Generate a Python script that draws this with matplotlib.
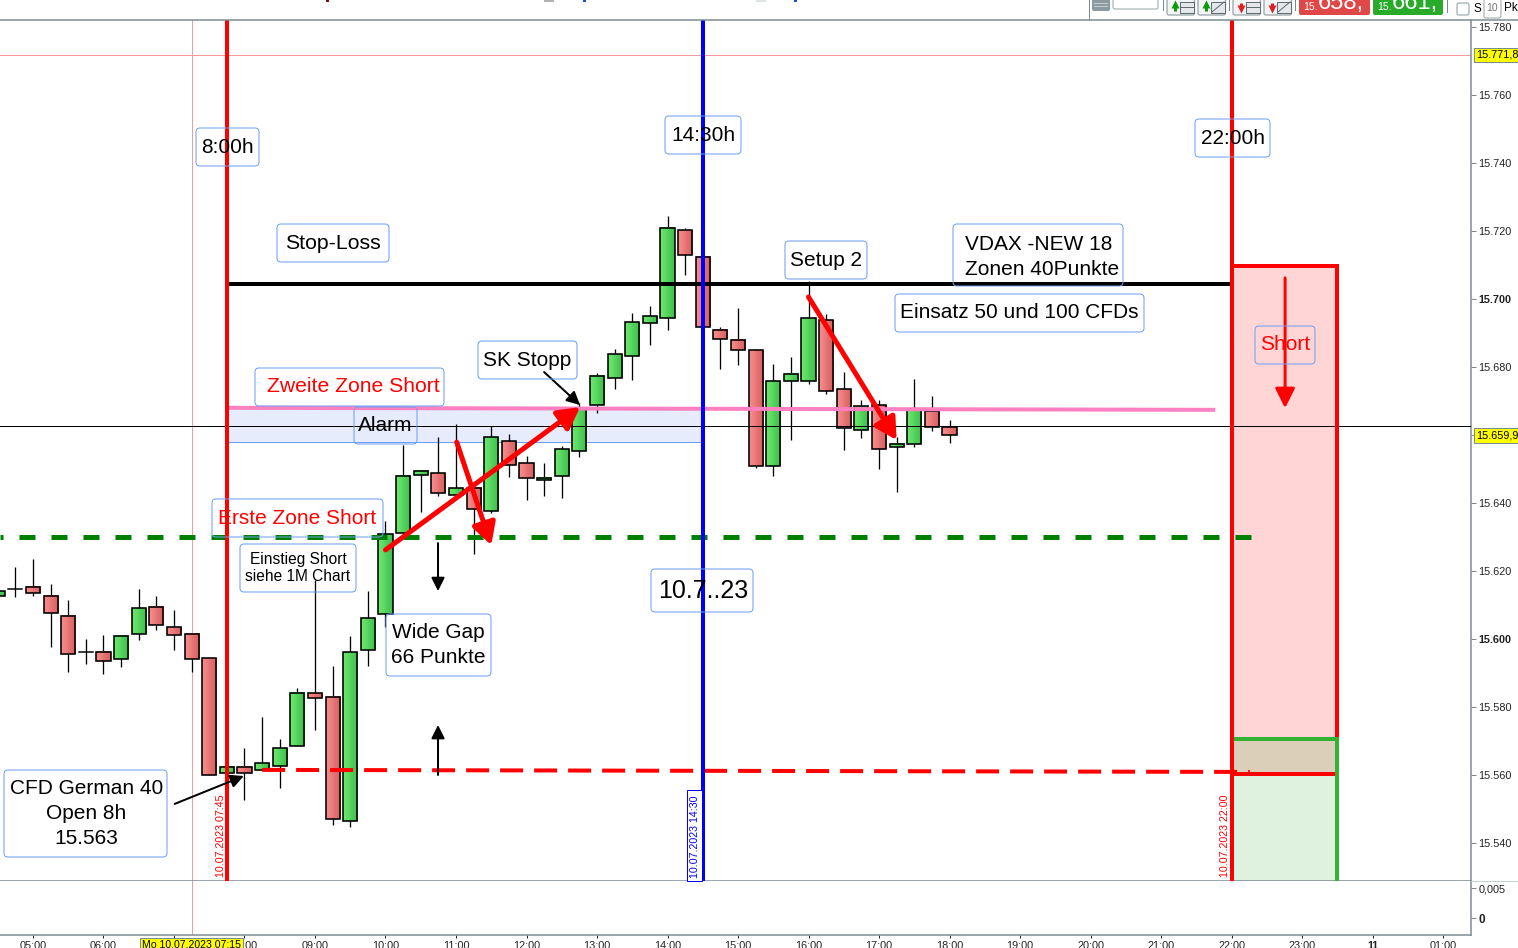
import numpy as np
import matplotlib
matplotlib.use('Agg')
import matplotlib.pyplot as plt
from matplotlib.colors import LinearSegmentedColormap
from matplotlib.patches import FancyBboxPatch, Rectangle

plt.rcParams['font.family'] = ['Liberation Sans', 'DejaVu Sans']

# 15 minute candles
times = ['04:30', '04:45', '05:00', '05:15', '05:30', '05:45', '06:00', '06:15', '06:30', '06:45', '07:00',
         '07:15', '07:30', '07:45', '08:00', '08:15', '08:30', '08:45', '09:00', '09:15', '09:30', '09:45',
         '10:00', '10:15', '10:30', '10:45', '11:00', '11:15', '11:30', '11:45', '12:00', '12:15', '12:30',
         '12:45', '13:00', '13:15', '13:30', '13:45', '14:00', '14:15', '14:30', '14:45', '15:00', '15:15',
         '15:30', '15:45', '16:00', '16:15', '16:30', '16:45', '17:00', '17:15', '17:30', '17:45', '18:00']
opens = [15612.7, 15614.8, 15615.4, 15612.7, 15606.9, 15596.1, 15596.3, 15594.0, 15601.4, 15609.3, 15603.4,
         15601.4, 15594.3, 15560.5, 15562.4, 15561.4, 15562.7, 15568.4, 15584.0, 15582.9, 15546.4, 15596.7,
         15607.3, 15631.1, 15648.1, 15648.7, 15642.3, 15644.3, 15637.6, 15658.1, 15651.7, 15646.7, 15647.9,
         15655.2, 15668.7, 15676.7, 15683.1, 15692.9, 15694.3, 15720.2, 15712.3, 15690.8, 15687.9, 15684.9,
         15650.8, 15675.8, 15675.8, 15693.7, 15673.4, 15661.4, 15668.7, 15656.4, 15657.3, 15667.0, 15662.3]
highs = [15614.4, 15621.2, 15623.5, 15616.2, 15611.5, 15599.9, 15601.2, 15601.0, 15614.7, 15612.6, 15608.5,
         15601.5, 15594.3, 15562.3, 15567.9, 15577.1, 15570.6, 15585.5, 15617.4, 15592.1, 15600.9, 15614.1,
         15634.6, 15657.1, 15649.6, 15659.3, 15663.1, 15644.3, 15662.6, 15660.3, 15653.8, 15651.8, 15656.8,
         15669.3, 15678.1, 15685.2, 15695.9, 15697.9, 15724.4, 15720.8, 15712.3, 15691.7, 15697.4, 15685.2,
         15680.8, 15682.9, 15705.3, 15695.5, 15678.4, 15670.3, 15670.3, 15659.3, 15676.5, 15671.4, 15664.4]
lows = [15612.3, 15612.4, 15612.6, 15597.7, 15590.4, 15592.7, 15589.8, 15591.9, 15599.8, 15602.6, 15596.9,
        15590.4, 15559.9, 15560.5, 15552.7, 15561.4, 15556.3, 15568.4, 15573.3, 15545.4, 15544.8, 15592.1,
        15603.6, 15631.1, 15637.4, 15642.1, 15642.3, 15625.1, 15637.1, 15647.7, 15640.9, 15642.1, 15641.6,
        15653.6, 15666.4, 15673.6, 15676.3, 15686.6, 15690.8, 15707.1, 15691.7, 15679.5, 15680.7, 15650.2,
        15647.9, 15658.6, 15675.1, 15672.1, 15655.7, 15659.2, 15650.1, 15643.3, 15656.4, 15661.3, 15657.7]
closes = [15614.0, 15614.8, 15613.4, 15607.6, 15595.5, 15596.1, 15593.4, 15601.0, 15609.0, 15604.0, 15601.1,
          15594.0, 15559.9, 15562.3, 15560.5, 15563.4, 15567.9, 15584.0, 15582.6, 15547.0, 15596.1, 15606.1,
          15630.8, 15647.9, 15649.3, 15642.9, 15644.3, 15638.1, 15659.3, 15651.1, 15647.3, 15647.3, 15655.8,
          15667.9, 15677.3, 15683.7, 15693.1, 15694.9, 15720.8, 15712.9, 15691.7, 15688.1, 15684.9, 15650.8,
          15675.8, 15677.9, 15694.3, 15672.9, 15662.0, 15668.4, 15655.8, 15657.3, 15667.6, 15662.3, 15659.9]

# levels
price_ticks = [15540, 15560, 15580, 15600, 15620, 15640, 15660, 15680, 15700, 15720, 15740, 15760, 15780]
bold_prices = [15600, 15700]
hidden_prices = [15660]
stop_loss = 15704.4
zone_top = 15668.2
zone_bottom = 15657.9
first_zone = 15629.9
crosshair_price = 15662.5
crosshair_time = '07:15'
high_tag = 15771.8
last_tag = 15659.9
pink_line = [15668.0, 15667.4]
red_line = [15561.5, 15560.9]
short_top = 15709.7
short_bottom = 15560.3
profit_top = 15570.6

hour_ticks = [5, 6, 7, 8, 9, 10, 11, 12, 13, 14, 15, 16, 17, 18, 19, 20, 21, 22, 23, 24, 25]
hour_labels = ['05:00', '06:00', '', '08:00', '09:00', '10:00', '11:00', '12:00', '13:00', '14:00', '15:00',
               '16:00', '17:00', '18:00', '19:00', '20:00', '21:00', '22:00', '23:00', '11', '01:00']

FIG_W, FIG_H = 1518, 948
LEFT, RIGHT = 4.532, 25.397
GRID = '#7a8a90'
BOX = '#6b9ff5'


def hours(t):
    h, m = t.split(':')
    return int(h) + int(m) / 60


def px(n):
    return n * 0.72


fig = plt.figure(figsize=(FIG_W / 100, FIG_H / 100), dpi=100)
ax = fig.add_axes([0, 1 - 881 / FIG_H, 1471 / FIG_W, 861 / FIG_H])
low = fig.add_axes([0, 1 - 935 / FIG_H, 1471 / FIG_W, 54 / FIG_H])
top = fig.add_axes([0, 0, 1, 1], zorder=5)
top.set_xlim(0, FIG_W)
top.set_ylim(FIG_H, 0)
top.axis('off')
top.patch.set_alpha(0)

ax.set_xlim(LEFT, RIGHT)
ax.set_ylim(15528.82, 15782.06)
ax.autoscale(False)

# risk / reward boxes
t22, t2330 = hours('22:00'), hours('23:30')
ax.add_patch(Rectangle((t22, short_bottom), t2330 - t22, short_top - short_bottom, fc='#ffd5d5', ec='none', zorder=2))
ax.add_patch(Rectangle((t22, 15528.82), t2330 - t22, profit_top - 15528.82, fc='#dff2df', ec='none', zorder=2))
ax.add_patch(Rectangle((t22, short_bottom), t2330 - t22, profit_top - short_bottom, fc='#dccfb9', ec='none', zorder=2))
ax.plot([t22, t22, t2330, t2330], [short_bottom, short_top, short_top, profit_top], color='#ff0000', lw=px(4),
        zorder=5, solid_joinstyle='miter')
ax.plot([t22, t2330], [short_bottom, short_bottom], color='#ff0000', lw=px(4), zorder=5, solid_capstyle='butt')
ax.plot([t22, t2330, t2330], [profit_top, profit_top, 15528.82], color='#33b233', lw=px(4), zorder=5,
        solid_joinstyle='miter')

# zone
t745, t1430 = hours('07:45'), hours('14:30')
ax.add_patch(Rectangle((t745, zone_bottom), t1430 - t745, zone_top - zone_bottom, fc='#e6ecfc', ec=BOX,
                       lw=px(1), zorder=2))

# candles
green_map = LinearSegmentedColormap.from_list('g', ['#6ce86c', '#3fbf4f'])
red_map = LinearSegmentedColormap.from_list('r', ['#f88c8c', '#d66060'])
grad = np.linspace(0, 1, 16).reshape(1, -1)
width = 0.2
for i in range(len(times)):
    x = hours(times[i])
    ax.plot([x, x], [lows[i], highs[i]], color='black', lw=px(1.3), zorder=3, solid_capstyle='butt')
    o, c = opens[i], closes[i]
    if o == c:
        ax.plot([x - width / 2, x + width / 2], [o, o], color='black', lw=px(1.5), zorder=3)
        continue
    cmap = green_map if c > o else red_map
    ax.imshow(grad, extent=(x - width / 2, x + width / 2, min(o, c), max(o, c)), aspect='auto', cmap=cmap,
              interpolation='nearest', zorder=3)
    ax.add_patch(Rectangle((x - width / 2, min(o, c)), width, abs(c - o), fc='none', ec='black', lw=px(1.6), zorder=3.1))

# crosshair and horizontal lines
ax.axhline(high_tag, color='#f79a9a', lw=px(1), zorder=1)
ax.axhline(crosshair_price, color='black', lw=px(1), zorder=4)
ax.plot([t745, t22], [stop_loss, stop_loss], color='black', lw=px(4), zorder=5, solid_capstyle='butt')
ax.plot([t745, 21.77], pink_line, color='#ff80c0', lw=px(4), zorder=5, solid_capstyle='butt')
ax.plot([LEFT, 22.28], [first_zone, first_zone], color='#008000', lw=px(5), zorder=5, ls=(2.6, (3.2, 3.2)))
ax.plot([hours('08:15'), 22.26], red_line, color='#ff0000', lw=px(4), zorder=5, ls=(0, (5.75, 2.75)))

# vertical lines
ax.axvline(hours(crosshair_time), color='#f79a9a', lw=px(1), zorder=1)
ax.axvline(t745, color='#ff0000', lw=px(4), zorder=6)
ax.axvline(t1430, color='#0000ff', lw=px(4), zorder=6)
ax.axvline(t22, color='#ff0000', lw=px(4), zorder=6)
low.axvline(hours(crosshair_time), color='#f79a9a', lw=px(1), zorder=1)

# arrows
red_arrows = [((10.0, 15626.2), (12.76, 15668.2)), ((11.01, 15657.9), (11.5, 15627.6)),
              ((16.0, 15700.6), (17.25, 15658.5))]
black_arrows = [((7.01, 15551.5), (7.99, 15559.7)), ((12.25, 15678.5), (12.76, 15668.8)),
                ((10.745, 15628.2), (10.745, 15614.1)), ((10.745, 15560.0), (10.745, 15574.7))]
for a, b in red_arrows:
    ax.annotate('', xy=b, xytext=a, zorder=7, arrowprops=dict(arrowstyle='-|>,head_length=1,head_width=0.55',
                mutation_scale=13, color='#ff0000', lw=px(5), shrinkA=0, shrinkB=0))
for a, b in black_arrows:
    ax.annotate('', xy=b, xytext=a, zorder=7, arrowprops=dict(arrowstyle='-|>,head_length=1,head_width=0.5',
                mutation_scale=8, color='black', lw=px(2), shrinkA=0, shrinkB=0))
ax.annotate('', xy=(22.76, 15667.9), xytext=(22.76, 15706.2), zorder=7,
            arrowprops=dict(arrowstyle='-|>,head_length=1,head_width=0.5', mutation_scale=12, color='#ff0000',
                            lw=px(3), shrinkA=0, shrinkB=0))

# axes
for s in ['top', 'left']:
    ax.spines[s].set_visible(False)
    low.spines[s].set_visible(False)
for a in [ax, low]:
    a.spines['right'].set_color(GRID)
    a.spines['bottom'].set_color(GRID)
    a.spines['right'].set_linewidth(px(1.5))
    a.spines['bottom'].set_linewidth(px(1.5))
    a.set_xlim(LEFT, RIGHT)
    a.yaxis.tick_right()
ax.set_xticks([])
ax.set_yticks(price_ticks)
price_labels = ['' if p in hidden_prices else '{:,}'.format(p).replace(',', '.') for p in price_ticks]
ax.set_yticklabels(price_labels, fontsize=7.8, color='#222222')
for lab, p in zip(ax.get_yticklabels(), price_ticks):
    if p in bold_prices:
        lab.set_fontweight('bold')
ax.tick_params(axis='y', length=3.5, width=px(1), color=GRID, pad=2)

low.set_ylim(-0.002833, 0.006167)
low.set_yticks([0, 0.005])
low.set_yticklabels(['0', '0,005'], fontsize=7.8, color='#222222')
low.get_yticklabels()[0].set_fontweight('bold')
low.get_yticklabels()[0].set_fontsize(8.5)
low.tick_params(axis='y', length=3.5, width=px(1), color=GRID, pad=2)
low.set_xticks(hour_ticks)
low.set_xticklabels(hour_labels, fontsize=7.8, color='#222222')
low.get_xticklabels()[hour_labels.index('11')].set_fontweight('bold')
low.tick_params(axis='x', length=2.5, width=px(1), color='#222222', pad=1.5)

# yellow price tags
for p, txt in [(high_tag, '15.771,8'), (last_tag, '15.659,9')]:
    ax.text(1.0036, p, txt, transform=ax.get_yaxis_transform(), fontsize=7.8, va='center', ha='left', zorder=8,
            clip_on=False, bbox=dict(boxstyle='square,pad=0.2', fc='#ffff00', ec=GRID, lw=px(1)))

# date labels on the vertical lines
ax.text(t745 - 0.09, 15529.9, '10.07.2023 07:45', rotation=90, fontsize=7.7, color='#ff0000', ha='center', va='bottom', zorder=8)
ax.text(t22 - 0.09, 15529.9, '10.07.2023 22:00', rotation=90, fontsize=7.7, color='#ff0000', ha='center', va='bottom', zorder=8)
top.add_patch(Rectangle((687, 790), 15, 91, fc='white', ec='#0000ff', lw=px(1)))
top.text(695, 878, '10.07.2023 14:30', rotation=90, fontsize=7.7, color='#0000ff', ha='center', va='bottom')

# text boxes, px coordinates of the screenshot
boxes = [
    ('8:00h', 196, 128, 259, 166, 'black', 15),
    ('14:30h', 665, 116, 741, 154, 'black', 15),
    ('22:00h', 1195, 119, 1270, 157, 'black', 15),
    ('Stop-Loss', 277, 224, 389, 262, 'black', 15.3),
    ('Setup 2', 785, 241, 867, 279, 'black', 15),
    ('Einsatz 50 und 100 CFDs', 895, 294, 1144, 332, 'black', 15),
    ('SK Stopp', 478, 341, 577, 379, 'black', 15),
    ('Zweite Zone Short', 255, 368, 452, 406, '#ff0000', 15.2),
    ('Alarm', 354, 407, 417, 444, 'black', 15),
    ('Erste Zone Short', 212, 499, 383, 537, '#ff0000', 15),
    ('Einstieg Short\nsiehe 1M Chart', 240, 546, 356, 590, 'black', 11.2),
    ('10.7..23', 651, 569, 755, 612, 'black', 18),
    ('Wide Gap\n66 Punkte', 386, 614, 491, 676, 'black', 15),
    ('CFD German 40\nOpen 8h\n15.563', 4, 770, 169, 857, 'black', 15),
    ('Short', 1255, 326, 1315, 364, '#ff0000', 15),
]
outlines = {'Zweite Zone Short': (444, 368, 406), '10.7..23': (753, 569, 612),
            'CFD German 40\nOpen 8h\n15.563': (167, 770, 857), 'Einstieg Short\nsiehe 1M Chart': (356, 544, 592)}
for txt, x0, y0, x1, y1, col, size in boxes:
    edge, ey0, ey1 = outlines.get(txt, (x1, y0, y1))
    top.add_patch(FancyBboxPatch((x0, ey0), edge - x0, ey1 - ey0, boxstyle='round,pad=0,rounding_size=4', fc='none',
                                 ec=BOX, lw=px(1)))
    top.text((x0 + x1) / 2, (y0 + y1) / 2, txt, color=col, fontsize=size, ha='center', va='center',
             linespacing=1.42 if size > 12 else 1.2)
top.add_patch(FancyBboxPatch((953, 224), 170, 62, boxstyle='round,pad=0,rounding_size=4', fc='none', ec=BOX, lw=px(1)))
top.text(965, 257, 'VDAX -NEW 18\nZonen 40Punkte', fontsize=15, ha='left', va='center', linespacing=1.42)

# toolbar
top.plot([0, FIG_W], [20, 20], color=GRID, lw=px(1.5))
top.plot([1471, FIG_W], [881, 881], color='#c8d0d4', lw=px(1))
for x, y_end in [(1088.7, 20), (1163, 10), (1228.5, 10), (1295, 10), (1447, 12)]:
    top.plot([x, x], [0, y_end], color=GRID, lw=px(1))
top.add_patch(FancyBboxPatch((1092, -4), 18, 15, boxstyle='round,pad=0,rounding_size=2', fc='#8a9aa0', ec='none'))
for y in [3, 6]:
    top.plot([1094, 1108], [y, y], color='white', lw=px(1), ls=(0, (1, 1)))
top.add_patch(FancyBboxPatch((1113, -5), 45, 14, boxstyle='round,pad=0,rounding_size=2', fc='white', ec='#9aa6aa', lw=px(1)))
button_x = [1167, 1198, 1233, 1264]
button_col = ['#0a9a0a', '#0a9a0a', '#e02020', '#e02020']
button_dir = [-1, -1, 1, 1]
button_diag = [False, True, False, True]
for x, col, d, diag in zip(button_x, button_col, button_dir, button_diag):
    top.add_patch(FancyBboxPatch((x, -4), 27.5, 19, boxstyle='round,pad=0,rounding_size=2', fc='#f2f4f5', ec='#9aa6aa', lw=px(1.3)))
    top.add_patch(Rectangle((x + 13, 1.5), 14, 11, fc='#e4e8ea', ec='#5f6c72', lw=px(1)))
    if diag:
        top.plot([x + 14, x + 26], [12, 2], color='#5f6c72', lw=px(1))
    else:
        top.plot([x + 13, x + 27], [7, 7], color='#5f6c72', lw=px(1))
    top.plot([x + 7.5, x + 7.5], [6.5 - 4 * d, 6.5 + 1 * d], color=col, lw=px(3), solid_capstyle='butt')
    top.plot([x + 7.5], [6.5 + 2.5 * d], marker='^' if d < 0 else 'v', ms=5.5, color=col, mec='none')
top.add_patch(FancyBboxPatch((1299, -5), 71, 20, boxstyle='round,pad=0,rounding_size=2', fc='#e04848', ec='none'))
top.add_patch(FancyBboxPatch((1373, -5), 70, 20, boxstyle='round,pad=0,rounding_size=2', fc='#28ab28', ec='none'))
top.text(1303, 7, '15.', color='white', fontsize=7.5, va='center')
top.text(1377, 7, '15.', color='white', fontsize=7.5, va='center')
top.text(1318, 3, '658,', color='white', fontsize=17, va='center')
top.text(1392, 3, '661,', color='white', fontsize=17, va='center')
top.add_patch(FancyBboxPatch((1457, 3), 12, 12, boxstyle='round,pad=0,rounding_size=2', fc='white', ec='#8a9aa0', lw=px(1)))
top.text(1473, 9, 'S', fontsize=8.5, va='center')
top.add_patch(FancyBboxPatch((1484, -4), 17, 22, boxstyle='round,pad=0,rounding_size=2', fc='white', ec='#9aa6aa', lw=px(1)))
top.text(1492.5, 8, '10', fontsize=7.5, va='center', ha='center', color='#777777')
top.text(1504, 8, 'Pkt', fontsize=8.5, va='center')

# cut off bits of the toolbar at the left
top.add_patch(Rectangle((326, 0), 3, 2, fc='#7a1010', ec='none'))
top.add_patch(Rectangle((544, 0), 10, 1.5, fc='#b0b0b0', ec='none'))
top.add_patch(Rectangle((583, 0), 3, 2, fc='#1a50c0', ec='none'))
top.add_patch(Rectangle((756, 0), 10, 1.5, fc='#dfe4e6', ec='none'))
top.add_patch(Rectangle((794, 0), 3, 2, fc='#1a50c0', ec='none'))

# date tag on the time axis
top.text(191.5, 944.5, 'Mo 10.07.2023 07:15', fontsize=7.6, ha='center', va='center', zorder=9,
         bbox=dict(boxstyle='square,pad=0.18', fc='#ffff00', ec=GRID, lw=px(1)))

fig.savefig('out.png', dpi=100)
